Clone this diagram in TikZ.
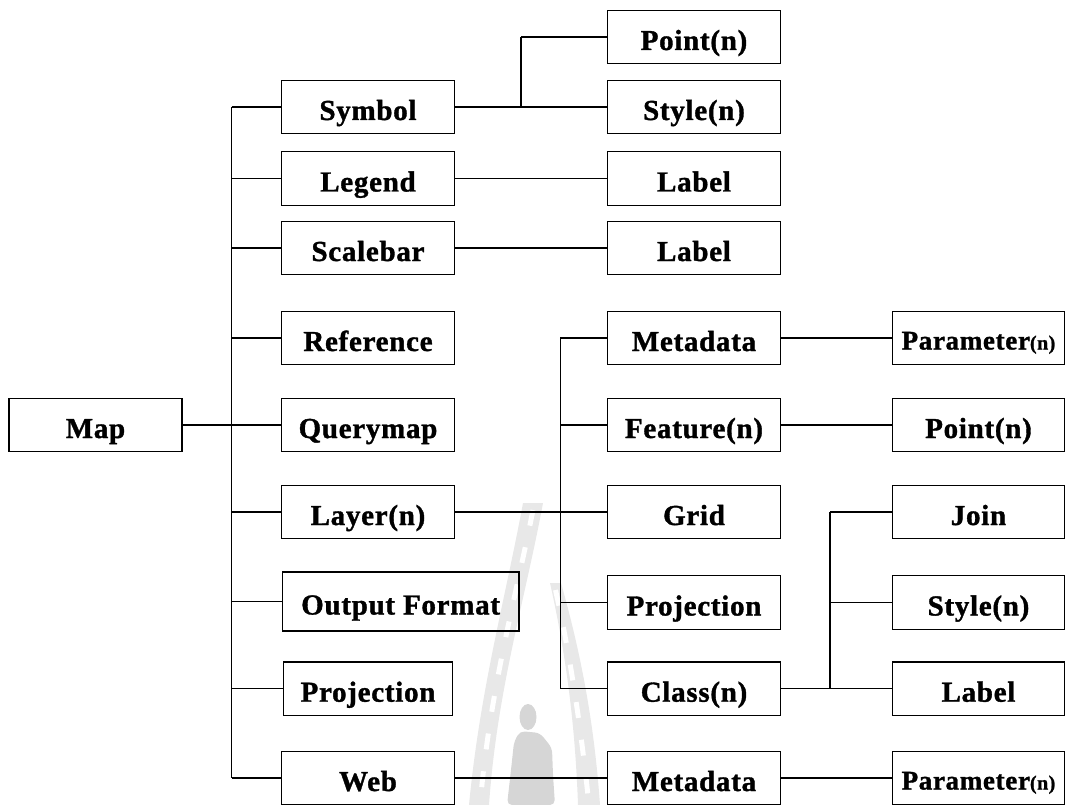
\documentclass[tikz,border=0pt]{standalone}
\usepackage{fontspec}
\setmainfont{Liberation Serif}[LetterSpace=2.5,BoldFeatures={FakeBold=1.2}]
\begin{document}
\begin{tikzpicture}[x=1pt,y=-1pt,
  box/.style={draw=black,line width=1.3pt,fill=none,minimum width=172.6pt,
    minimum height=53.5pt,inner sep=0pt,text height=26pt,text depth=0pt,
    font=\fontsize{29}{31}\selectfont\bfseries},
  wide/.style={box,minimum width=236.6pt,minimum height=59pt,anchor=west},
  narrow/.style={box,minimum width=168.6pt},
  link/.style={draw=black,line width=1.3pt},
  wmark/.style={fill=black!9,draw=none},
  rung/.style={draw=white,line width=5pt,dash pattern=on 16pt off 22pt}]
\useasboundingbox (0,0) rectangle (1086,805);

% faint emblem in the background
\fill[wmark] (523,503) .. controls (505,600) and (480,690) .. (469,805)
  -- (489,805) .. controls (497,690) and (525,600) .. (543,503) -- cycle;
\fill[wmark] (550,583) .. controls (565,650) and (575,720) .. (578,805)
  -- (600,805) .. controls (594,720) and (580,650) .. (561,583) -- cycle;
\draw[rung] (533,510) .. controls (514,605) and (490,690) .. (480,805);
\draw[rung] (555.5,590) .. controls (570,655) and (580,720) .. (589,805);
\fill[black!16] (528,717) ellipse [x radius=8.5, y radius=13];
\fill[black!16,rounded corners=5pt] (520,731) -- (540,733) -- (552,748)
  -- (553,775) -- (555,805) -- (507,805) -- (511,770) -- (514,742) -- cycle;

% root
\node[box,minimum width=173pt] (map) at (95.5,425) {Map};

% second level
\node[box] (symbol)    at (368,107)   {Symbol};
\node[box] (legend)    at (368,178.5) {Legend};
\node[box] (scalebar)  at (368,248)   {Scalebar};
\node[box] (reference) at (368,338)   {Reference};
\node[box] (querymap)  at (368,425)   {Querymap};
\node[box] (layer)     at (368,512)   {Layer(n)};
\node[wide] (outfmt)   at (281.7,601.5) {Output Format};
\node[narrow] (projA)  at (368,688.7) {Projection};
\node[box] (web)       at (368,778)   {Web};

% third level
\node[box] (pointA)  at (694,37)    {Point(n)};
\node[box] (styleA)  at (694,107)   {Style(n)};
\node[box] (labelA)  at (694,178.5) {Label};
\node[box] (labelB)  at (694,248)   {Label};
\node[box] (metaA)   at (694,338)   {Metadata};
\node[box] (feature) at (694,425)   {Feature(n)};
\node[box] (grid)    at (694,512)   {Grid};
\node[box] (projB)   at (694,602.5) {Projection};
\node[box] (classn)  at (694,688.7) {Class(n)};
\node[box] (metaB)   at (694,778)   {Metadata};

% fourth level
\newcommand{\paramtext}{\fontsize{27}{30}\selectfont Parameter\fontsize{20}{22}\selectfont(n)}
\node[box,text height=23pt] (paramA) at (978.5,338)   {\paramtext};
\node[box] (pointB) at (978.5,425)   {Point(n)};
\node[box] (join)   at (978.5,512)   {Join};
\node[box] (styleB) at (978.5,602.5) {Style(n)};
\node[box] (labelC) at (978.5,688.7) {Label};
\node[box,text height=23pt] (paramB) at (978.5,778)   {\paramtext};

% bus positions
\coordinate (busA) at (231.7,0);
\coordinate (busB) at (521,0);
\coordinate (busC) at (560.3,0);
\coordinate (busD) at (830,0);

% Map children
\draw[link] (map.east) -- (map.east -| busA);
\draw[link] (symbol.west -| busA) -- (web.west -| busA);
\foreach \n in {symbol,legend,scalebar,reference,querymap,layer,outfmt,projA,web}
  \draw[link] (\n.west -| busA) -- (\n.west);

% Symbol children
\draw[link] (symbol.east) -- (symbol.east -| busB);
\draw[link] (pointA.west -| busB) -- (styleA.west -| busB);
\foreach \n in {pointA,styleA}
  \draw[link] (\n.west -| busB) -- (\n.west);

% single links
\draw[link] (legend.east) -- (labelA.west);
\draw[link] (scalebar.east) -- (labelB.west);
\draw[link] (metaA.east) -- (paramA.west);
\draw[link] (feature.east) -- (pointB.west);
\draw[link] (web.east) -- (metaB.west);
\draw[link] (metaB.east) -- (paramB.west);

% Layer children
\draw[link] (layer.east) -- (grid.west);
\draw[link] (metaA.west -| busC) -- (classn.west -| busC);
\foreach \n in {metaA,feature,projB,classn}
  \draw[link] (\n.west -| busC) -- (\n.west);

% Class children
\draw[link] (classn.east) -- (classn.east -| busD);
\draw[link] (join.west -| busD) -- (labelC.west -| busD);
\foreach \n in {join,styleB,labelC}
  \draw[link] (\n.west -| busD) -- (\n.west);
\end{tikzpicture}
\end{document}
